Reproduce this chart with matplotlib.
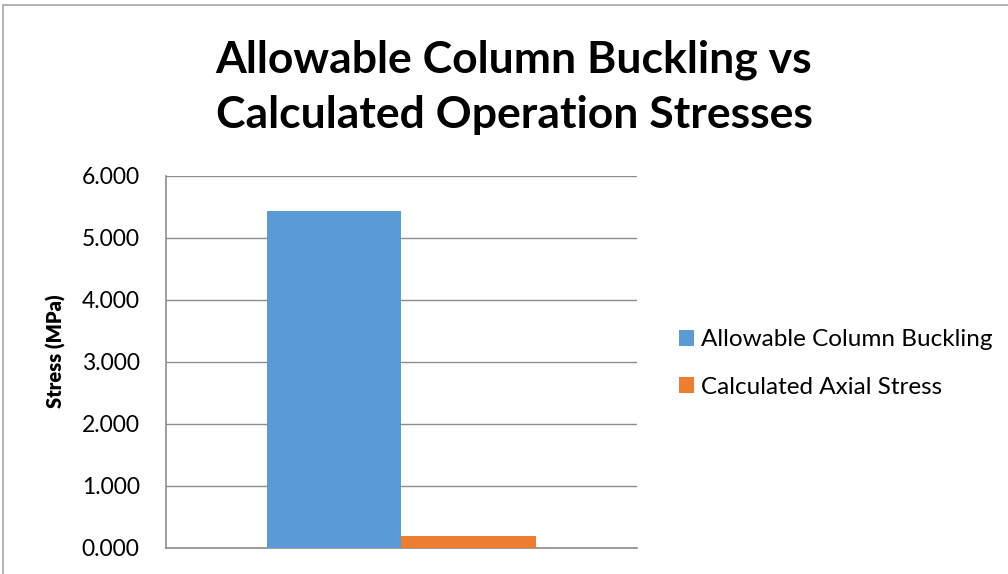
import matplotlib.pyplot as plt
from matplotlib.patches import Rectangle

# data
series = ["Allowable Column Buckling", "Calculated Axial Stress"]
values = [5.43, 0.19]
colors = ["#5B9BD5", "#ED7D31"]
yticks = [0, 1, 2, 3, 4, 5, 6]

plt.rcParams['font.family'] = ['Lato', 'DejaVu Sans']

fig = plt.figure(figsize=(10.08, 5.74), dpi=100)
ax = fig.add_axes([166 / 1008, 1 - 547.7 / 574, (636.7 - 166) / 1008, (547.7 - 175.5) / 574])

# outer chart border (top/left visible)
fig.patches.append(Rectangle((3 / 1008, -0.1), 1.2, 1 - 5 / 574 + 0.1,
                             transform=fig.transFigure, fill=False,
                             edgecolor="#a6a6a6", linewidth=1.2))

width = 0.286
positions = [-width / 2, width / 2]
for pos, val, col, name in zip(positions, values, colors, series):
    ax.bar(pos, val, width=width, color=col, label=name, zorder=3)

ax.set_xlim(-0.5, 0.5)
ax.set_ylim(0, 6)
ax.set_yticks(yticks)
ax.set_yticklabels([f"{t:.3f}" for t in yticks], fontsize=16.5)
ax.set_xticks([])
ax.tick_params(axis='y', length=0, pad=19)
ax.grid(axis='y', color="#8c8c8c", linewidth=1, zorder=0)
for s in ["top", "right"]:
    ax.spines[s].set_visible(False)
for s in ["left", "bottom"]:
    ax.spines[s].set_color("#8c8c8c")
    ax.spines[s].set_linewidth(1.2)

ax.set_ylabel("Stress (MPa)", fontsize=14.5, fontweight="heavy")
ax.yaxis.set_label_coords(-0.212, 0.528)

fig.text(514 / 1008, 1 - 72 / 574, "Allowable Column Buckling vs",
         ha="center", va="baseline", fontsize=32, fontweight="bold")
fig.text(514 / 1008, 1 - 128 / 574, "Calculated Operation Stresses",
         ha="center", va="baseline", fontsize=32, fontweight="bold")

fig.legend(loc="center left", bbox_to_anchor=(679 / 1008, 1 - 363.5 / 574),
           frameon=False, borderpad=0, borderaxespad=0,
           fontsize=17.5, handlelength=0.62, handleheight=0.62, labelspacing=1.09,
           handletextpad=0.28)

fig.savefig("out.png", dpi=100)
